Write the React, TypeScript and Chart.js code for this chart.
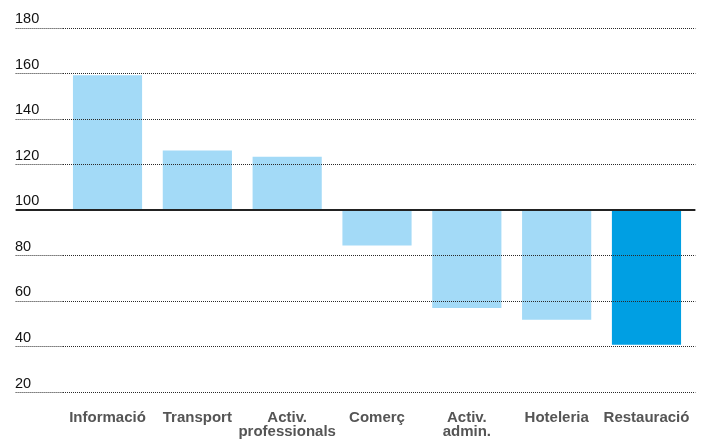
import React, { useEffect, useRef } from "react";
import { Chart, registerables } from "chart.js";

Chart.register(...registerables);

// ---- data ----
const categories: (string | string[])[] = [
  "Informació",
  "Transport",
  ["Activ.", "professionals"],
  "Comerç",
  ["Activ.", "admin."],
  "Hoteleria",
  "Restauració",
];
const values = [159.3, 126.2, 123.5, 84.5, 57.1, 51.9, 41.0];
const highlighted = [false, false, false, false, false, false, true];
const baseline = 100;
const yMin = 20;
const yMax = 180;
const yStep = 20;

const LIGHT = "#A3DAF7";
const DARK = "#009FE3";

const isBase = (c: any) => c && c.tick && c.tick.value === baseline;

export default function App() {
  const ref = useRef<HTMLCanvasElement | null>(null);

  useEffect(() => {
    document.body.style.margin = "0";
    const canvas = ref.current;
    if (!canvas) return;

    const gridColor = (c: any) => (isBase(c) ? "#222" : "#2a2a2a");
    const gridWidth = (c: any) => (isBase(c) ? 2 : 1);
    const gridDash = (c: any) => (isBase(c) ? [] : [1, 1]);

    const chart = new Chart(canvas, {
      type: "bar",
      data: {
        labels: categories as any,
        datasets: [
          {
            data: values.map((v) => [baseline, v]) as any,
            backgroundColor: highlighted.map((h) => (h ? DARK : LIGHT)),
            borderWidth: 0,
            barPercentage: 0.77,
            categoryPercentage: 1,
            yAxisID: "y",
          },
        ],
      },
      options: {
        animation: false,
        responsive: true,
        maintainAspectRatio: false,
        layout: { padding: { left: 15, top: 28, right: 10, bottom: 0 } },
        plugins: {
          legend: { display: false },
          tooltip: { enabled: false },
        },
        scales: {
          x: {
            grid: { display: false },
            border: { display: false },
            ticks: {
              padding: 10,
              color: "#555",
              font: {
                family: "'Liberation Sans', Arial, Helvetica, sans-serif",
                size: 15,
                weight: "bold",
                lineHeight: 0.95,
              },
              maxRotation: 0,
              autoSkip: false,
            },
            afterFit: (scale: any) => {
              scale.height = 51.5;
            },
          },
          y: {
            position: "left",
            min: yMin,
            max: yMax,
            ticks: {
              stepSize: yStep,
              crossAlign: "far",
              labelOffset: -9,
              color: "#111",
              font: {
                family: "'Liberation Sans', Arial, Helvetica, sans-serif",
                size: 14.5,
              },
            },
            grid: {
              z: 1,
              color: gridColor,
              lineWidth: gridWidth,
              tickColor: gridColor,
              tickWidth: gridWidth,
              tickBorderDash: gridDash,
              tickLength: 47,
              drawTicks: true,
            },
            border: { display: false, dash: gridDash },
            afterFit: (scale: any) => {
              scale.width = 47.6;
            },
          },
          y2: {
            position: "right",
            min: yMin,
            max: yMax,
            ticks: { stepSize: yStep, display: false },
            grid: {
              z: 1,
              drawOnChartArea: false,
              drawTicks: true,
              tickLength: 4,
              tickColor: gridColor,
              tickWidth: gridWidth,
              tickBorderDash: gridDash,
              color: gridColor,
              lineWidth: gridWidth,
            },
            border: { display: false },
            afterFit: (scale: any) => {
              scale.width = 4.6;
            },
          },
        },
      } as any,
    });

    return () => chart.destroy();
  }, []);

  return (
    <div style={{ position: "relative", width: 706, height: 444 }}>
      <canvas ref={ref} />
    </div>
  );
}
